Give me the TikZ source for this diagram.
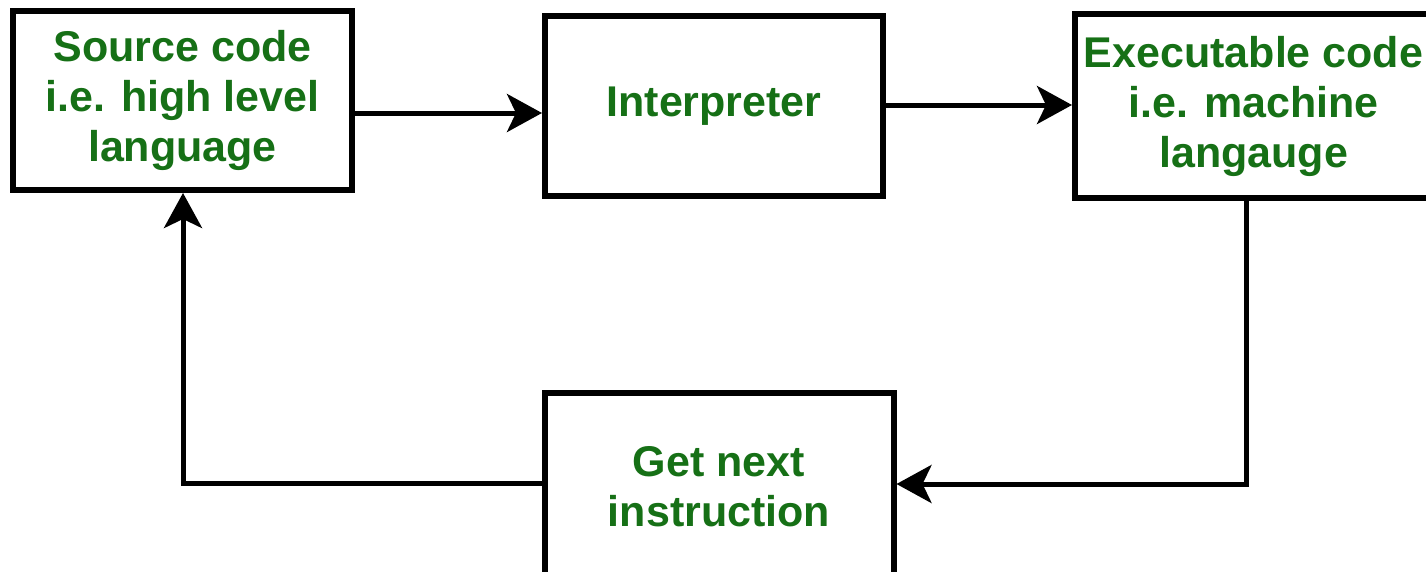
\documentclass[tikz,border=0pt]{standalone}
\usepackage{fontspec}
\setmainfont{Liberation Sans}
\usetikzlibrary{arrows.meta}
\definecolor{txtgreen}{RGB}{22,112,22}
\tikzset{
  box/.style={draw=black, line width=6pt, fill=white, align=center, font=\fontsize{43}{50}\selectfont\bfseries, text=txtgreen, inner sep=0pt},
  arr/.style={draw=black, line width=5pt, -{Stealth[length=35pt, width=38pt, inset=9pt]}},
}
\begin{document}
\begin{tikzpicture}[x=1pt, y=-1pt]
\useasboundingbox (0,0) rectangle (1426,571);
\node[box, minimum width=339pt, minimum height=179pt] (b1) at (182.5,100.5) {Source code\\i.e. high level\\language};
\node[box, minimum width=338pt, minimum height=180pt] (b2) at (714,106) {Interpreter};
\node[box, minimum width=357pt, minimum height=184pt] (b3) at (1253.5,106) {Executable code\\i.e. machine\\langauge};
\node[box, minimum width=349pt, minimum height=188pt] (b4) at (719,487) {Get next\\instruction};
\coordinate (r1) at (0,113);
\coordinate (r2) at (0,105);
\coordinate (c3) at (1246,484);
\coordinate (c4) at (183,483);
\draw[arr] (b1.east |- r1) -- (b2.west |- r1);
\draw[arr] (b2.east |- r2) -- (b3.west |- r2);
\draw[arr] (b3.south -| c3) -- (c3) -- (b4.east |- c3);
\draw[arr] (b4.west |- c4) -- (c4) -- (b1.south -| c4);
\end{tikzpicture}
\end{document}
